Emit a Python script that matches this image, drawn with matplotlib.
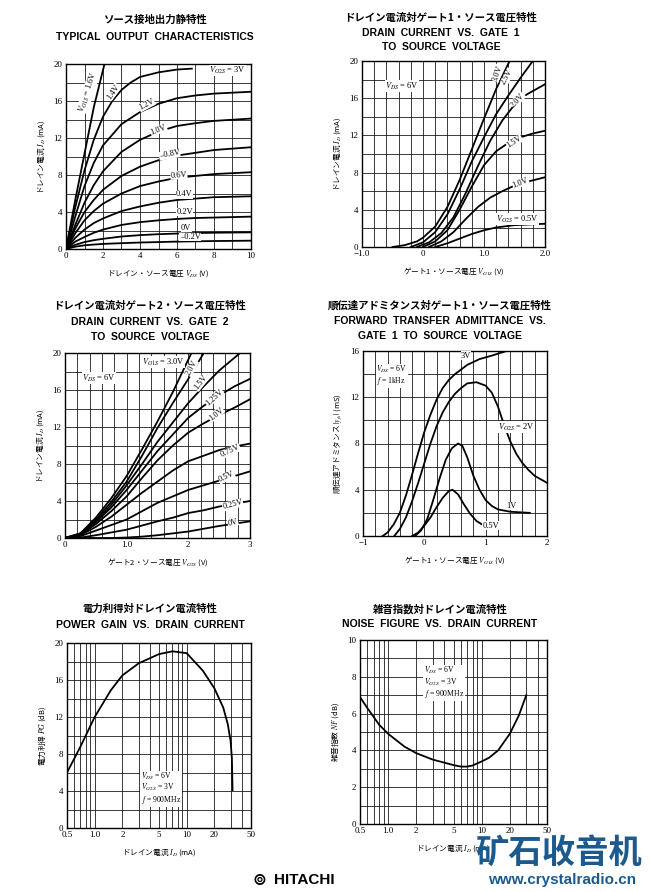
import numpy as np
import matplotlib.pyplot as plt
from matplotlib.ticker import NullFormatter

plt.rcParams['mathtext.fontset'] = 'stix'
JP = ['Noto Sans CJK JP', 'DejaVu Sans']
SERIF = ['Liberation Serif', 'DejaVu Serif']
SANS = ['Liberation Sans', 'DejaVu Sans']

# --- panel 1: typical output characteristics (ID vs VDS) ---
vds_16 = [0, 0.5, 1, 1.5, 2.08]
id_16 = [0, 5.3, 10.3, 15.3, 20]
vds_14 = [0, 0.5, 1, 1.5, 2, 2.5, 3, 3.5, 4, 5, 6, 6.8]
id_14 = [0, 4.5, 8.5, 11.8, 14.3, 16.0, 17.2, 18.0, 18.6, 19.1, 19.4, 19.5]
vds_grid = [0, 0.5, 1, 1.5, 2, 3, 4, 5, 6, 7, 8, 10]
id_out = {
    '1.2V': [0, 3.5, 6.8, 9.3, 11.2, 13.5, 14.8, 15.7, 16.3, 16.6, 16.8, 17.0],
    '1.0V': [0, 2.6, 5.0, 6.9, 8.4, 10.5, 11.8, 12.7, 13.3, 13.6, 13.85, 14.1],
    '0.8V': [0, 2.2, 4.0, 5.3, 6.4, 7.9, 8.9, 9.6, 10.1, 10.4, 10.7, 11.0],
    '0.6V': [0, 1.7, 3.1, 4.1, 4.9, 6.0, 6.8, 7.3, 7.7, 7.9, 8.1, 8.3],
    '0.4V': [0, 1.2, 2.1, 2.8, 3.3, 4.1, 4.6, 5.0, 5.3, 5.45, 5.6, 5.7],
    '0.2V': [0, 0.8, 1.3, 1.75, 2.1, 2.6, 2.9, 3.1, 3.25, 3.35, 3.4, 3.5],
    '0V': [0, 0.45, 0.75, 0.95, 1.1, 1.35, 1.5, 1.6, 1.67, 1.72, 1.76, 1.8],
    '-0.2V': [0, 0.25, 0.4, 0.48, 0.55, 0.63, 0.7, 0.75, 0.8, 0.83, 0.86, 0.9],
}

# --- panel 2: ID vs VG1S for several VG2S ---
g1_30 = [-0.5, -0.3, -0.1, 0, 0.2, 0.4, 0.6, 0.8, 1.0, 1.2, 1.42]
id_g1_30 = [0, 0.2, 0.6, 1.0, 2.2, 4.3, 7.2, 10.5, 13.8, 17.0, 20]
g1_25 = [-0.2, 0, 0.2, 0.4, 0.6, 0.8, 1.0, 1.2, 1.4, 1.6, 1.8]
id_g1_25 = [0, 0.5, 1.6, 3.5, 6.2, 9.2, 11.8, 14.3, 16.3, 18.2, 20]
g1_20 = [-0.1, 0.1, 0.3, 0.5, 0.7, 0.9, 1.1, 1.3, 1.5, 1.7, 2.0]
id_g1_20 = [0, 0.5, 1.5, 3.2, 5.8, 8.7, 11.4, 13.6, 15.3, 16.4, 17.5]
g1_15 = [0, 0.2, 0.4, 0.6, 0.8, 1.0, 1.2, 1.4, 1.6, 1.8, 2.0]
id_g1_15 = [0, 0.6, 1.8, 4.0, 6.5, 8.8, 10.3, 11.2, 11.8, 12.2, 12.5]
g1_10 = [0.1, 0.3, 0.5, 0.7, 0.9, 1.1, 1.3, 1.5, 1.7, 2.0]
id_g1_10 = [0, 0.6, 1.6, 3.0, 4.3, 5.3, 6.0, 6.6, 7.0, 7.5]
g1_05 = [0.2, 0.4, 0.6, 0.8, 1.0, 1.2, 1.5, 2.0]
id_g1_05 = [0, 0.4, 0.9, 1.4, 1.8, 2.1, 2.35, 2.5]

# --- panel 3: ID vs VG2S for several VG1S ---
g2_30 = [0, 0.25, 0.5, 0.75, 1.0, 1.25, 1.5, 1.75, 2.05]
id_g2_30 = [0, 0.5, 2.2, 4.3, 6.7, 9.6, 12.6, 15.8, 20]
g2_20 = [0, 0.25, 0.5, 0.75, 1.0, 1.25, 1.5, 1.75, 2.0, 2.25]
id_g2_20 = [0, 0.5, 2.0, 3.9, 6.1, 8.9, 11.9, 14.6, 17.2, 20]
g2_15 = [0, 0.25, 0.5, 0.75, 1.0, 1.25, 1.5, 1.75, 2.0, 2.25, 2.5, 2.84]
id_g2_15 = [0, 0.45, 1.8, 3.6, 5.7, 8.0, 10.4, 12.5, 14.6, 16.4, 18.1, 20]
g2_grid = [0, 0.25, 0.5, 0.75, 1.0, 1.25, 1.5, 1.75, 2.0, 2.25, 2.5, 2.75, 3.0]
id_g2 = {
    '1.25V': [0, 0.4, 1.7, 3.3, 5.2, 7.3, 9.4, 11.2, 13.0, 14.3, 15.4, 16.4, 17.2],
    '1.0V': [0, 0.35, 1.5, 2.9, 4.5, 6.5, 8.4, 10.0, 11.4, 12.4, 13.3, 14.1, 15.0],
    '0.75V': [0, 0.3, 1.2, 2.3, 3.6, 4.9, 6.1, 7.3, 8.3, 8.9, 9.5, 9.9, 10.2],
    '0.5V': [0, 0.2, 0.8, 1.4, 2.0, 2.9, 3.8, 4.5, 5.2, 5.7, 6.2, 6.7, 7.2],
    '0.25V': [0, 0.05, 0.3, 0.6, 0.9, 1.35, 1.8, 2.2, 2.7, 3.0, 3.4, 3.7, 4.0],
    '0V': [0, 0, 0, 0, 0.05, 0.15, 0.3, 0.5, 0.7, 1.0, 1.3, 1.55, 1.8],
}

# --- panel 4: forward transfer admittance vs VG1S ---
yfs_g1_3 = [-0.68, -0.6, -0.5, -0.4, -0.3, -0.2, -0.1, 0, 0.1, 0.2, 0.3, 0.4, 0.5, 0.7, 0.9, 1.1, 1.34]
yfs_3 = [0, 0.3, 1.0, 2.0, 3.5, 5.3, 7.2, 9.0, 10.5, 11.8, 12.8, 13.5, 14.0, 14.8, 15.3, 15.6, 16.0]
yfs_g1_2 = [-0.49, -0.4, -0.3, -0.2, -0.1, 0, 0.1, 0.2, 0.3, 0.4, 0.5, 0.6, 0.7, 0.85,
            1.0, 1.1, 1.2, 1.3, 1.4, 1.5, 1.6, 1.7, 1.8, 1.9, 2.0]
yfs_2 = [0, 0.6, 1.6, 3.0, 4.6, 6.3, 8.0, 9.5, 10.7, 11.6, 12.3, 12.8, 13.2, 13.3,
         13.0, 12.4, 11.2, 9.6, 8.2, 7.1, 6.3, 5.7, 5.2, 4.9, 4.6]
yfs_g1_1 = [-0.15, -0.05, 0.05, 0.15, 0.25, 0.35, 0.45, 0.55, 0.62, 0.7, 0.8, 0.9, 1.0, 1.1, 1.2, 1.4, 1.72]
yfs_1 = [0, 0.5, 1.5, 3.2, 5.0, 6.6, 7.6, 8.0, 7.8, 6.8, 5.2, 4.0, 3.1, 2.6, 2.3, 2.1, 2.0]
yfs_g1_05 = [-0.2, -0.1, 0, 0.1, 0.2, 0.3, 0.4, 0.46, 0.55, 0.65, 0.75, 0.85, 1.0]
yfs_05 = [0, 0.3, 0.9, 1.6, 2.5, 3.3, 3.9, 4.0, 3.6, 2.7, 1.9, 1.3, 0.8]

# --- panel 5: power gain vs drain current ---
pg_id = [0.5, 0.6, 0.7, 0.8, 1.0, 1.5, 2, 3, 5, 7, 10, 15, 20, 25, 28, 30, 31, 31.5]
pg_db = [6.0, 7.5, 8.8, 10.0, 12.0, 14.9, 16.5, 17.8, 18.8, 19.1, 18.9, 17.0, 15.1, 13.0, 11.2, 9.4, 7.5, 4.1]

# --- panel 6: noise figure vs drain current ---
nf_id = [0.5, 0.6, 0.8, 1, 1.5, 2, 3, 5, 6, 7, 8, 10, 12, 15, 20, 25, 30]
nf_db = [6.9, 6.3, 5.4, 4.9, 4.2, 3.85, 3.5, 3.2, 3.12, 3.12, 3.18, 3.4, 3.6, 4.0, 4.9, 5.9, 7.0]

log_major = [0.5, 1, 2, 5, 10, 20, 50]
log_labels = ['0.5', '1.0', '2', '5', '10', '20', '50']
log_grid = [0.6, 0.7, 0.8, 0.9, 3, 4, 6, 7, 8, 9, 30, 40]

W, H = 650, 892
fig = plt.figure(figsize=(W / 100, H / 100), dpi=100)
fig.patch.set_facecolor('white')
LW = 1.3


def make_axes(l, t, r, b, xlim, ylim, xmajor, xlabels, ymajor, xgrid, ygrid, log=False):
    ax = fig.add_axes([l / W, 1 - b / H, (r - l) / W, (b - t) / H])
    if log:
        ax.set_xscale('log')
    ax.set_xlim(xlim)
    ax.set_ylim(ylim)
    ax.set_xticks(xmajor)
    ax.set_xticklabels(xlabels)
    ax.set_yticks(ymajor)
    ax.set_yticklabels([str(v) for v in ymajor])
    ax.set_xticks(xgrid, minor=True)
    ax.set_yticks(ygrid, minor=True)
    ax.xaxis.set_minor_formatter(NullFormatter())
    ax.grid(True, which='both', color='#1a1a1a', lw=0.6)
    ax.tick_params(which='both', length=0, labelsize=6.5, pad=2.5)
    for lab in ax.get_xticklabels() + ax.get_yticklabels():
        lab.set_family(SERIF)
    for s in ax.spines.values():
        s.set_linewidth(1.0)
    return ax


def titles(x, ys, lines):
    fig.text(x / W, 1 - ys[0] / H, lines[0], ha='center', va='center', family=JP,
             fontsize=7.5, fontweight='bold')
    for y, s in zip(ys[1:], lines[1:]):
        fig.text(x / W, 1 - y / H, s, ha='center', va='center', family=SANS,
                 fontsize=7.5, fontweight='bold')


def lab(ax, x, y, s, rot=0, size=6, ha='center'):
    ax.text(x, y, s, rotation=rot, ha=ha, va='center', family=SERIF, fontsize=size,
            bbox=dict(facecolor='white', edgecolor='none', pad=0.2), zorder=5)


def cond(ax, x, y, s):
    ax.text(x, y, s, ha='left', va='top', family=SERIF, fontsize=5.5, linespacing=1.05,
            bbox=dict(facecolor='white', edgecolor='none', pad=0.5), zorder=5)


def axlabels(ax, xl, yl, xpad=5, ypad=5):
    ax.set_xlabel(xl, family=JP, fontsize=5.5, labelpad=xpad)
    ax.set_ylabel(yl, family=JP, fontsize=5.5, labelpad=ypad)


# panel 1
titles(155, [20, 37], ['ソース接地出力静特性', 'TYPICAL  OUTPUT  CHARACTERISTICS'])
ax1 = make_axes(66, 64, 251, 249, (0, 10), (0, 20), [0, 2, 4, 6, 8, 10],
                ['0', '2', '4', '6', '8', '10'], [0, 4, 8, 12, 16, 20],
                np.arange(0, 11, 1), np.arange(0, 21, 2))
ax1.plot(vds_16, id_16, color='k', lw=LW)
ax1.plot(vds_14, id_14, color='k', lw=LW)
for k, v in id_out.items():
    ax1.plot(vds_grid, v, color='k', lw=LW)
lab(ax1, 1.2, 17.0, r'$V_{G1S}$ = 1.6V', rot=72)
lab(ax1, 2.55, 17.0, '1.4V', rot=55)
lab(ax1, 4.35, 15.6, '1.2V', rot=28)
lab(ax1, 5.0, 12.9, '1.0V', rot=22)
lab(ax1, 5.6, 10.2, '–0.8V', rot=10)
lab(ax1, 6.1, 8.0, '0.6V', rot=4)
lab(ax1, 6.4, 5.9, '0.4V')
lab(ax1, 6.4, 4.0, '0.2V')
lab(ax1, 6.5, 2.3, '0V')
lab(ax1, 6.7, 1.3, '–0.2V')
lab(ax1, 9.7, 19.3, r'$V_{G2S}$ = 3V', ha='right')
axlabels(ax1, r'ドレイン・ソース電圧 $V_{DS}$ (V)', r'ドレイン電流 $I_D$ (mA)')

# panel 2
titles(441, [18, 33, 47], ['ドレイン電流対ゲート1・ソース電圧特性', 'DRAIN  CURRENT  VS.  GATE  1',
                          'TO  SOURCE  VOLTAGE'])
ax2 = make_axes(362, 61, 545, 247, (-1, 2), (0, 20), [-1, 0, 1, 2],
                ['−1.0', '0', '1.0', '2.0'], [0, 4, 8, 12, 16, 20],
                np.arange(-1, 2.01, 0.2), np.arange(0, 21, 2))
for xs, ys in [(g1_30, id_g1_30), (g1_25, id_g1_25), (g1_20, id_g1_20),
               (g1_15, id_g1_15), (g1_10, id_g1_10), (g1_05, id_g1_05)]:
    ax2.plot(xs, ys, color='k', lw=LW)
lab(ax2, 1.22, 18.7, '3.0V', rot=70)
lab(ax2, 1.38, 18.3, '2.5V', rot=62)
lab(ax2, 1.55, 15.8, '2.0V', rot=48)
lab(ax2, 1.5, 11.3, '1.5V', rot=33)
lab(ax2, 1.6, 6.9, '1.0V', rot=22)
lab(ax2, 1.55, 3.0, r'$V_{G2S}$ = 0.5V')
lab(ax2, -0.35, 17.3, r'$V_{DS}$ = 6V')
axlabels(ax2, r'ゲート1・ソース電圧 $V_{G1S}$ (V)', r'ドレイン電流 $I_D$ (mA)')

# panel 3
titles(150, [306, 322, 337], ['ドレイン電流対ゲート2・ソース電圧特性', 'DRAIN  CURRENT  VS.  GATE  2',
                             'TO  SOURCE  VOLTAGE'])
ax3 = make_axes(65, 353, 250, 538, (0, 3), (0, 20), [0, 1, 2, 3],
                ['0', '1.0', '2', '3'], [0, 4, 8, 12, 16, 20],
                np.arange(0, 3.01, 0.2), np.arange(0, 21, 2))
for xs, ys in [(g2_30, id_g2_30), (g2_20, id_g2_20), (g2_15, id_g2_15)]:
    ax3.plot(xs, ys, color='k', lw=LW)
for k, v in id_g2.items():
    ax3.plot(g2_grid, v, color='k', lw=LW)
lab(ax3, 1.6, 19.0, r'$V_{G1S}$ = 3.0V')
lab(ax3, 0.55, 17.3, r'$V_{DS}$ = 6V')
lab(ax3, 2.05, 18.4, '2.0V', rot=62)
lab(ax3, 2.2, 16.8, '1.5V', rot=52)
lab(ax3, 2.42, 15.2, '1.25V', rot=42)
lab(ax3, 2.45, 13.4, '1.0V', rot=38)
lab(ax3, 2.68, 9.4, '0.75V', rot=25)
lab(ax3, 2.62, 6.6, '0.5V', rot=25)
lab(ax3, 2.72, 3.6, '0.25V', rot=15)
lab(ax3, 2.72, 1.7, '0V', rot=15)
axlabels(ax3, r'ゲート2・ソース電圧 $V_{G2S}$ (V)', r'ドレイン電流 $I_D$ (mA)')

# panel 4
titles(440, [305, 321, 336], ['順伝達アドミタンス対ゲート1・ソース電圧特性',
                             'FORWARD  TRANSFER  ADMITTANCE  VS.', 'GATE  1  TO  SOURCE  VOLTAGE'])
ax4 = make_axes(363, 351, 547, 536, (-1, 2), (0, 16), [-1, 0, 1, 2],
                ['−1', '0', '1', '2'], [0, 4, 8, 12, 16],
                np.arange(-1, 2.01, 0.2), np.arange(0, 17, 2))
for xs, ys in [(yfs_g1_3, yfs_3), (yfs_g1_2, yfs_2), (yfs_g1_1, yfs_1), (yfs_g1_05, yfs_05)]:
    ax4.plot(xs, ys, color='k', lw=LW)
lab(ax4, 0.68, 15.6, '3V')
cond(ax4, -0.78, 14.9, '$V_{DS}$ = 6V\n$f$ = 1kHz')
lab(ax4, 1.5, 9.4, r'$V_{G2S}$ = 2V')
lab(ax4, 1.42, 2.6, '1V')
lab(ax4, 1.08, 0.9, '0.5V')
axlabels(ax4, r'ゲート1・ソース電圧 $V_{G1S}$ (V)', r'順伝達アドミタンス $|y_{fs}|$ (mS)')

# panel 5
titles(150, [609, 625], ['電力利得対ドレイン電流特性', 'POWER  GAIN  VS.  DRAIN  CURRENT'])
ax5 = make_axes(67, 643, 251, 828, (0.5, 50), (0, 20), log_major, log_labels,
                [0, 4, 8, 12, 16, 20], log_grid, np.arange(0, 21, 2), log=True)
ax5.plot(pg_id, pg_db, color='k', lw=LW)
cond(ax5, 3.2, 6.2, '$V_{DS}$ = 6V\n$V_{G2S}$ = 3V\n$f$ = 900MHz')
axlabels(ax5, r'ドレイン電流 $I_D$ (mA)', r'電力利得 $PG$ (dB)')

# panel 6
titles(440, [609, 624], ['雑音指数対ドレイン電流特性', 'NOISE  FIGURE  VS.  DRAIN  CURRENT'])
ax6 = make_axes(360, 640, 547, 824, (0.5, 50), (0, 10), log_major, log_labels,
                [0, 2, 4, 6, 8, 10], log_grid, np.arange(0, 11, 1), log=True)
ax6.plot(nf_id, nf_db, color='k', lw=LW)
cond(ax6, 2.4, 8.65, '$V_{DS}$ = 6V\n$V_{G2S}$ = 3V\n$f$ = 900MHz')
axlabels(ax6, r'ドレイン電流 $I_D$ (mA)', r'雑音指数 $NF$ (dB)')

# footer: maker logo and watermark
fig.text(259 / W, 1 - 880 / H, '⊚', ha='center', va='center', fontsize=12, family=['DejaVu Sans'],
         fontweight='bold')
fig.text(304 / W, 1 - 880 / H, 'HITACHI', ha='center', va='center', fontsize=11,
         fontweight='bold', family=SANS)
fig.text(559 / W, 1 - 853 / H, '矿石收音机', ha='center', va='center', fontsize=24,
         fontweight='heavy', family=['Noto Sans CJK SC'], color='#1c5a8e')
fig.text(562 / W, 1 - 880 / H, 'www.crystalradio.cn', ha='center', va='center', fontsize=11,
         fontweight='bold', family=SANS, color='#1c5a8e')

fig.savefig('out.png', dpi=100, facecolor='white')
